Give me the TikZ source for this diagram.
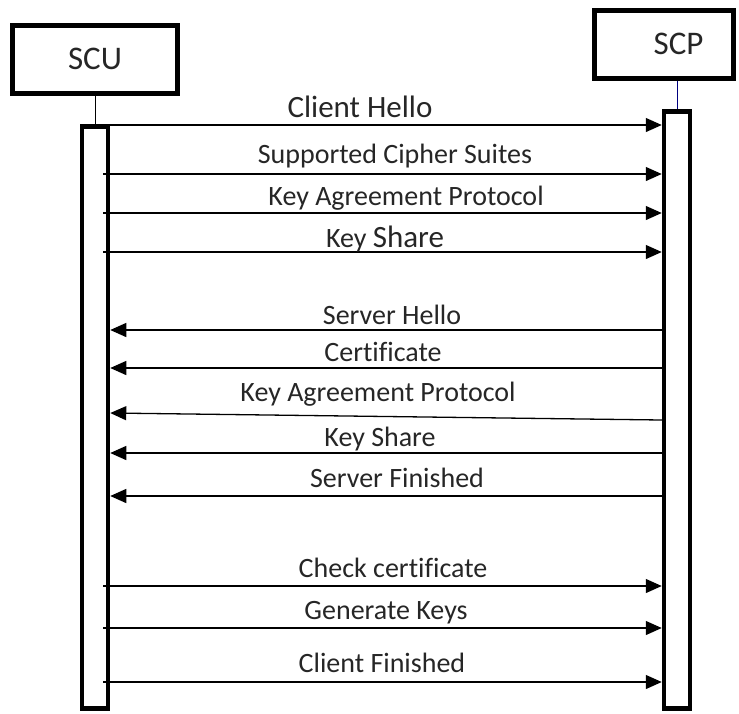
\documentclass[tikz,border=0pt]{standalone}
\usepackage{fontspec}
\setmainfont{Carlito}[Ligatures=NoCommon]
\usetikzlibrary{arrows.meta}
\begin{document}
\begin{tikzpicture}[x=1pt,y=-1pt,
  actor/.style={draw,line width=5pt,fill=white,minimum width=165pt,minimum height=68pt,inner sep=0pt,text=black!85,font=\fontsize{33}{36}\selectfont},
  bar/.style={draw,line width=4.5pt,fill=white,minimum width=26pt,inner sep=0pt},
  msg/.style={line width=1.3pt,-{Triangle[length=16pt,width=14pt]}},
  lbl/.style={font=\fontsize{28}{30}\selectfont,text=black!85,inner sep=0pt,anchor=base}]
\useasboundingbox (0,0) rectangle (739,713);
% actors
\node[actor] (scu) at (95,59) {\raisebox{-4pt}{SCU}};
\node[actor,minimum width=139pt] (scp) at (663.5,44) {\hspace*{30pt}SCP};
% lifeline stubs
\coordinate (scutop) at (95,124);
\coordinate (scptop) at (677,109);
\draw[line width=1pt] (scu.south) -- (scutop);
\draw[line width=1pt,blue!50!black] (scp.south -| scptop) -- (scptop);
% activation bars
\node[bar,minimum height=582pt,anchor=north] (scub) at (scutop) {};
\node[bar,minimum height=597pt,anchor=north] (scpb) at (scptop) {};
% messages SCU -> SCP
\foreach \y/\b/\xl/\t/\n in {125/117/360/{\fontsize{31}{33}\selectfont Client Hello}/m1,
  174/163/395/{Supported Cipher Suites}/m2,
  213/205/406/{Key Agreement Protocol}/m3,
  252/247/385/{Key \fontsize{31}{33}\selectfont Share}/m4,
  586/577/393/{Check certificate}/m10,
  628/619/386/{Generate Keys}/m11,
  682/672/382/{Client Finished}/m12}{
  \coordinate (\n a) at (scub.east |- 0,\y);
  \coordinate (\n b) at (scpb.west |- 0,\y);
  \draw[msg] ([xshift=-7pt]\n a) -- (\n b);
  \node[lbl] (\n l) at (\xl,\b) {\t};
}
% messages SCP -> SCU
\foreach \y/\yy/\b/\xl/\t/\n in {330/330/324/392/{Server Hello}/m5,
  368/368/361/383/{Certificate}/m6,
  420/413/401/378/{Key Agreement Protocol}/m7,
  453/453/446/380/{Key Share}/m8,
  496/496/487/397/{Server Finished}/m9}{
  \coordinate (\n a) at (scpb.west |- 0,\y);
  \coordinate (\n b) at (scub.east |- 0,\yy);
  \draw[msg] (\n a) -- (\n b);
  \node[lbl] (\n l) at (\xl,\b) {\t};
}
\end{tikzpicture}
\end{document}
